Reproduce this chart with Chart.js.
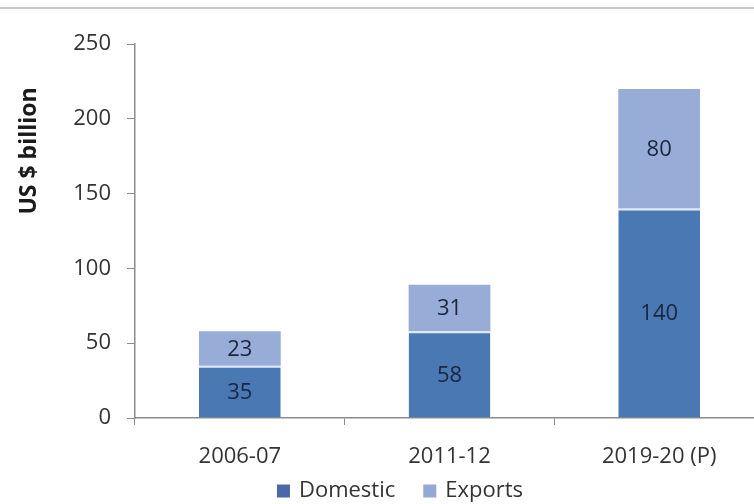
<!DOCTYPE html>
<html>
<head>
<meta charset="utf-8">
<script src="https://cdn.jsdelivr.net/npm/chart.js@4.4.1/dist/chart.umd.min.js"></script>
<style>
  html, body { margin: 0; padding: 0; background: #fff; overflow: hidden; }
  #wrap { position: absolute; left: 0; top: 0; width: 764px; height: 504px; }
  #topline { position: absolute; left: 0; top: 7px; width: 754px; height: 0; border-top: 2px solid #c8c8c8; }
</style>
</head>
<body>
<div id="topline"></div>
<div id="wrap"><canvas id="chart"></canvas></div>
<script>
var categories = ['2006-07', '2011-12', '2019-20 (P)'];
var domestic = [35, 58, 140];
var exportsVals = [23, 31, 80];
var yTicks = [0, 50, 100, 150, 200, 250];

var FONT = '"Open Sans", sans-serif';

// draws the numbers inside each bar segment
var segmentLabels = {
    id: 'segmentLabels',
    afterDatasetsDraw(chart) {
        var ctx = chart.ctx;
        ctx.save();
        ctx.font = '22px ' + FONT;
        ctx.fillStyle = '#1b2540';
        ctx.textAlign = 'center';
        ctx.textBaseline = 'middle';
        chart.data.datasets.forEach(function (ds, i) {
            chart.getDatasetMeta(i).data.forEach(function (bar, j) {
                var mid = (bar.y + bar.base) / 2;
                ctx.fillText(String(ds.data[j]), bar.x, mid + 1);
            });
        });
        ctx.restore();
    }
};

// y axis title sits higher than centre in the original
var yTitle = {
    id: 'yTitle',
    afterDraw(chart) {
        var ctx = chart.ctx;
        ctx.save();
        ctx.translate(29, 151);
        ctx.rotate(-Math.PI / 2);
        ctx.font = 'bold 23px ' + FONT;
        ctx.fillStyle = '#1a1a1a';
        ctx.textAlign = 'center';
        ctx.textBaseline = 'middle';
        ctx.fillText('US $ billion', 0, 0);
        ctx.restore();
    }
};

// legend drawn by hand so the spacing matches (built from the dataset labels/colours)
var bottomLegend = {
    id: 'bottomLegend',
    afterDraw(chart) {
        var ctx = chart.ctx;
        var box = 13, gap = 9, between = 28;
        ctx.save();
        ctx.font = '22px ' + FONT;
        var items = chart.data.datasets.map(function (ds) {
            return { text: ds.label, color: ds.legendColor || ds.backgroundColor, w: box + gap + ctx.measureText(ds.label).width };
        });
        var total = items.reduce(function (s, it) { return s + it.w; }, 0) + between * (items.length - 1);
        var x = 400 - total / 2;
        var y = 491;
        ctx.textBaseline = 'middle';
        ctx.textAlign = 'left';
        items.forEach(function (it) {
            ctx.fillStyle = it.color;
            ctx.fillRect(x, y - box / 2, box, box);
            ctx.fillStyle = '#333';
            ctx.fillText(it.text, x + box + gap, y);
            x += it.w + between;
        });
        ctx.restore();
    }
};

var ctx = document.getElementById('chart').getContext('2d');
var chart = new Chart(ctx, {
    type: 'bar',
    data: {
        labels: categories,
        datasets: [{
            label: 'Domestic',
            data: domestic,
            backgroundColor: '#4a78b3',
            legendColor: '#4b69a8',
            borderColor: '#dfe8f6',
            borderWidth: {top: 2, bottom: 0, left: 0, right: 0},
            borderSkipped: false,
            barPercentage: 0.39,
            categoryPercentage: 1
        }, {
            label: 'Exports',
            data: exportsVals,
            backgroundColor: '#97add7',
            legendColor: '#93a8d4',
            borderWidth: 0,
            barPercentage: 0.39,
            categoryPercentage: 1
        }]
    },
    options: {
        responsive: true,
        maintainAspectRatio: false,
        animation: false,
        layout: { padding: { top: 44, left: 0, right: 0, bottom: 35 } },
        plugins: {
            legend: { display: false },
            tooltip: { enabled: false }
        },
        scales: {
            x: {
                stacked: true,
                afterFit: function (scale) { scale.height = 51; },
                grid: { display: true, drawOnChartArea: false, offset: true, color: '#8c8c8c', tickLength: 7 },
                border: { color: '#8c8c8c', width: 1.5 },
                ticks: { color: '#333', font: { size: 22, family: FONT }, padding: 19 }
            },
            y: {
                stacked: true,
                min: 0,
                max: 250,
                afterBuildTicks: function (scale) {
                    scale.ticks = yTicks.map(function (v) { return { value: v }; });
                },
                afterFit: function (scale) { scale.width = 135; },
                grid: { display: true, drawOnChartArea: false, color: '#8c8c8c', tickLength: 8 },
                border: { color: '#8c8c8c', width: 1.5 },
                ticks: { color: '#333', font: { size: 22, family: FONT }, padding: 16 }
            }
        }
    },
    plugins: [segmentLabels, yTitle, bottomLegend]
});
</script>
</body>
</html>
